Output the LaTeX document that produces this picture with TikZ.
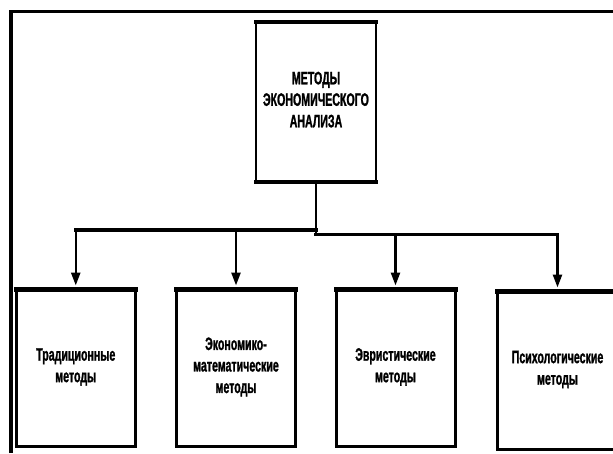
\documentclass[tikz,border=0pt]{standalone}
\usepackage{fontspec}
\newfontfamily\narrowfont[FakeStretch=0.59,FakeBold=1.2]{Liberation Sans}
\usetikzlibrary{arrows.meta}
\tikzset{
  txt/.style={font=\narrowfont\bfseries\fontsize{18}{21.5}\selectfont, align=center},
  topbox/.style={font=\narrowfont\bfseries\fontsize{18}{21.5}\selectfont, draw, line width=2.2pt, outer sep=0pt, inner sep=0pt, minimum width=120pt, minimum height=160pt},
  lowbox/.style={txt, draw, line width=3pt, outer sep=0pt, inner sep=0pt, minimum width=119pt, minimum height=158pt},
  thickedge/.style={line width=#1, line cap=rect},
  bar/.style={line width=3.5pt, line cap=rect, line join=miter},
  stem/.style={line width=2.7pt},
  arr/.style={line width=2.5pt, -{Triangle[width=9pt,length=13pt]}, shorten >=2.5pt},
  frame/.style={line width=3.5pt, line join=miter}
}
\begin{document}
\begin{tikzpicture}[x=1pt,y=-1pt]
\useasboundingbox (0,0) rectangle (613,453);
\fill[white] (0,0) rectangle (613,453);
% outer frame
\draw[frame] (11,453) -- (11,11.7) -- (613,11.7);
% top box
\node[topbox] (top) at (316,101.5) {\raisebox{3.5pt}{\begin{tabular}{@{}c@{}}МЕТОДЫ\\ЭКОНОМИЧЕСКОГО\\АНАЛИЗА\end{tabular}}};
\draw[thickedge=4pt] (top.north west) -- (top.north east);
\draw[thickedge=4pt] (top.south west) -- (top.south east);
% lower boxes
\node[lowbox] (b1) at (75.75,367) {Традиционные\\методы};
\node[lowbox] (b2) at (236,367) {Экономико-\\математические\\методы};
\node[lowbox] (b3) at (395.5,367) {Эвристические\\методы};
\node[lowbox, minimum width=121pt, minimum height=159pt] (b4) at (557.5,369.5) {Психологические\\методы};
\foreach \b in {b1,b2,b3,b4} {
  \draw[thickedge=5pt] ([yshift=-1pt]\b.north west) -- ([yshift=-1pt]\b.north east);
}
% connectors
\coordinate (jl) at (316,230);
\coordinate (jr) at (316,234.5);
\draw[stem] (top.south) -- (jr);
\draw[bar] (jl) -- (jl -| b1.north);
\draw[bar] (jr) -- (jr -| b4.north);
\draw[arr] (jl -| b1.north) -- (b1.north);
\draw[arr] (jl -| b2.north) -- (b2.north);
\draw[arr] (jr -| b3.north) -- (b3.north);
\draw[arr] (jr -| b4.north) -- (b4.north);
\end{tikzpicture}
\end{document}
